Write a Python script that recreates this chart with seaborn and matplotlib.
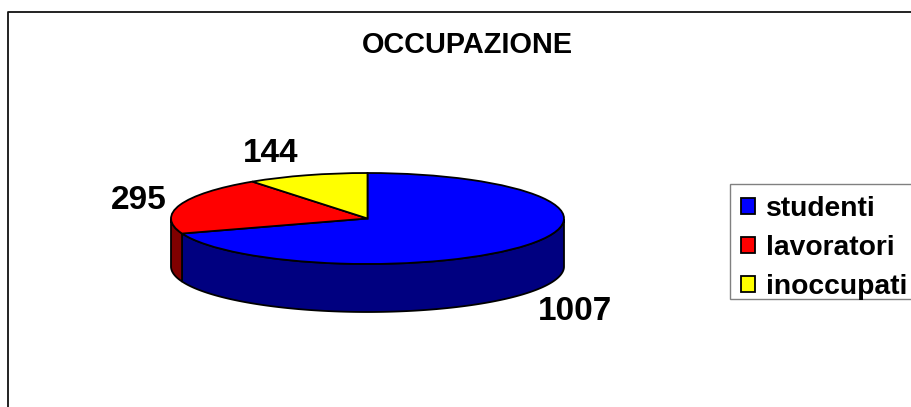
import matplotlib.pyplot as plt
import numpy as np
import seaborn as sns
from matplotlib.lines import Line2D
from matplotlib.patches import Rectangle

sns.set_style("white")
plt.rcParams["font.family"] = ["Liberation Sans", "DejaVu Sans"]
plt.rcParams["text.color"] = "black"

# values
categories = ["studenti", "lavoratori", "inoccupati"]
values = [1007, 295, 144]
title = "OCCUPAZIONE"

top_colors = sns.color_palette(["#0000ff", "#ff0000", "#ffff00"])
side_colors = sns.color_palette(["#000080", "#800000", "#808000"])

W, H = 911, 407
DEPTH = 48 / 45.5  # wall height, in units of the squashed radius


def wall(ax, wedge, color):
    """Draw the part of a slice's outer wall that faces the viewer"""
    theta = np.radians(np.linspace(wedge.theta1, wedge.theta2, 400))
    theta = theta[np.sin(theta) <= 0]
    if len(theta) == 0:
        return
    x = np.cos(theta)
    y = np.sin(theta)
    ax.fill(
        np.r_[x, x[::-1]],
        np.r_[y, y[::-1] - DEPTH],
        facecolor=color,
        edgecolor="black",
        lw=1.3,
        clip_on=False,
        zorder=1,
    )


fig = plt.figure(figsize=(W / 100, H / 100), dpi=100)
fig.patch.set_facecolor("white")

# outer frame, open on the right and at the bottom
fig.add_artist(
    Line2D([8 / W, 8 / W, 1], [0, 1 - 12 / H, 1 - 12 / H], color="#111111", lw=1.3)
)

# pie squashed into a flat ellipse
ax = fig.add_axes([171 / W, 95 / H, 393 / W, 139 / H])
wedges, _ = ax.pie(
    values,
    colors=top_colors,
    startangle=90,
    counterclock=False,
    wedgeprops={"edgecolor": "black", "linewidth": 1.3, "clip_on": False, "zorder": 3},
)
ax.set_aspect("auto")
ax.set_xlim(-1, 1)
ax.set_ylim(-1 - DEPTH, 1)
ax.axis("off")

for wedge, color in zip(wedges, side_colors):
    wall(ax, wedge, color)

fig.text(467 / W, 1 - 45 / H, title, ha="center", va="center", fontsize=20.8, fontweight="bold")

# value labels, same order as values
label_xy = [(575, 311), (139, 200), (271, 153)]
for value, (x, y) in zip(values, label_xy):
    fig.text(x / W, 1 - y / H, str(value), ha="center", va="center", fontsize=24, fontweight="bold")

# legend box runs off the right edge of the figure, kept under the pie axes
fig.add_artist(
    Rectangle(
        (730 / W, 1 - 299 / H),
        200 / W,
        115 / H,
        transform=fig.transFigure,
        facecolor="white",
        edgecolor="#808080",
        lw=1.0,
        zorder=-1,
    )
)

leg = ax.legend(
    wedges,
    categories,
    loc="upper left",
    bbox_to_anchor=(730 / W, 1 - 185 / H),
    bbox_transform=fig.transFigure,
    borderaxespad=0,
    borderpad=0.4,
    handlelength=0.5,
    handleheight=0.5,
    handletextpad=0.38,
    labelspacing=0.46,
    frameon=False,
    prop={"size": 20.3, "weight": "bold"},
)
leg.set_zorder(5)

fig.savefig("out.png", dpi=100)
